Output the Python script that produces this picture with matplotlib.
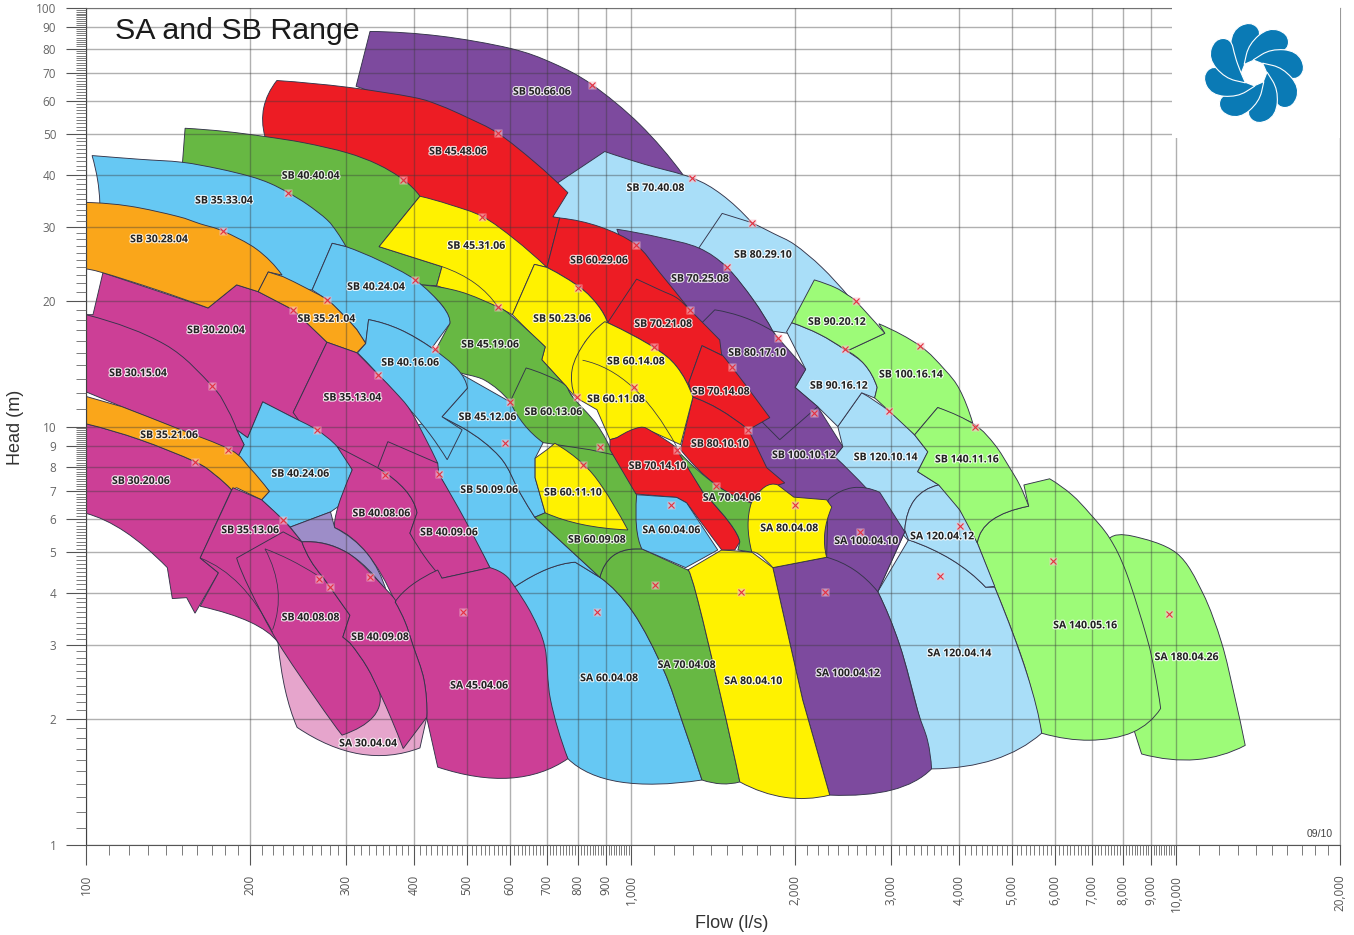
import numpy as np
import matplotlib
matplotlib.use("Agg")
import matplotlib.pyplot as plt
import matplotlib.patheffects as pe
from matplotlib.patches import PathPatch, Rectangle
from matplotlib.path import Path
from matplotlib.ticker import FixedLocator, NullFormatter

# outlines as (flow, head), a third item marks a point on a smooth curve between two corners
SB_50_66_06 = [(332,87.9),(446,85.7,1),(600,80.1,1),(719,73.8,1),(848,65.6,1),(1038,52.7,1),(1245,40.0),(877,38.9),(740,34.0),(465,54.2),(313,65.0)]
SB_70_40_08 = [(725,37.8),(895,45.4),(1060,42.3,1),(1293,39.3,1),(1468,35.8,1),(1666,30.7),(1338,25.0),(954,26.5),(719,31.7)]
SB_80_29_10 = [(1470,32.3),(1666,30.7),(1828,28.9,1),(1997,27.2,1),(2240,24.0,1),(2520,20.3),(1956,16.6),(1940,16.7),(1820,16.9),(1675,20.1,1),(1500,24.0,1),(1411,25.4,1),(1332,26.7)]
SB_120_10_14 = [(2650,12.04),(2984,10.85,1),(3315,9.55),(3505,8.7),(3358,7.8),(3670,7.25),(3315,6.68,1),(3180,5.66),(3247,5.29),(2366,8.47),(2447,8.95),(2396,10.0)]
SB_90_16_12 = [(1972,17.7),(2220,16.6,1),(2468,15.26,1),(2685,14.05,1),(2830,12.4),(2800,11.7),(2650,12.04),(2396,10.0),(2201,11.15),(2000,12.4),(2092,13.7),(1930,16.85)]
SB_100_16_14 = [(2850,17.6),(3387,15.6,1),(3765,13.67,1),(4011,12.24,1),(4237,10.2),(3655,11.1),(3315,9.55),(2984,10.85,1),(2800,11.7),(2830,12.4),(2685,14.05,1),(2468,15.26),(2520,15.26),(2923,16.7)]
SB_90_20_12 = [(2170,22.4),(2366,21.5,1),(2500,20.6,1),(2597,19.8,1),(2923,16.7),(2520,15.26),(2468,15.26),(2220,16.6,1),(1972,17.7)]
SA_180_04_26 = [(7557,5.41),(8330,5.47,1),(10030,4.98,1),(11200,4.0,1),(12130,3.04,1),(12800,2.28,1),(13400,1.73),(10900,1.6,1),(8650,1.65),(8400,1.86),(7245,3.85)]
SA_140_05_16 = [(5260,7.25),(5865,7.5),(6440,6.87,1),(6945,6.2,1),(7557,5.41,1),(8110,4.47,1),(8837,3.14,1),(9140,2.59,1),(9374,2.12),(8330,1.86,1),(6945,1.78,1),(5670,1.85),(5320,2.58,1),(4953,3.36,1),(4650,4.13,1),(4320,5.27),(4600,5.98,1),(5367,6.45)]
SA_120_04_14 = [(2837,4.03),(3230,5.36),(3880,4.8,1),(4475,4.13),(4650,4.13),(5320,2.58,1),(5670,1.85),(4640,1.6,1),(3560,1.52),(3356,2.1,1),(3113,3.0,1)]
SA_120_04_12 = [(3670,7.25),(3315,6.68,1),(3180,5.66),(3230,5.36),(3880,4.8,1),(4475,4.13),(4650,4.15),(4320,5.27),(4011,6.32,1)]
SB_140_11_16 = [(3655,11.1),(4270,10.1,1),(4650,9.05,1),(4953,7.97,1),(5167,7.25,1),(5367,6.45),(4600,5.98,1),(4320,5.27),(4011,6.32),(3670,7.25),(3358,7.8),(3505,8.7),(3315,9.55)]
SB_100_10_12 = [(1900,11.9),(2041,11.3,1),(2201,11.15),(2447,8.95),(2366,8.47),(2720,7.06,1),(3180,5.6),(2837,4.03),(2286,4.87),(1821,4.6),(1723,7.46),(1643,9.82),(1770,10.8)]
SA_100_04_10 = [(2300,6.68),(2552,7.14,1),(2861,6.96),(3180,5.6),(2837,4.03),(2286,4.87)]
SA_100_04_12 = [(1821,4.6),(2286,4.87),(2570,4.54,1),(2837,4.03),(3113,3.0,1),(3356,2.1,1),(3500,1.78,1),(3560,1.52),(3009,1.353,1),(2316,1.316),(2066,2.22)]
SB_70_25_08 = [(942,29.6),(1130,28.3,1),(1332,26.7,1),(1500,24.0,1),(1675,20.1,1),(1820,16.9),(1860,16.3),(1455,16.1),(1338,17.0),(1038,21.2)]
SB_80_17_10 = [(1425,19.0),(1618,18.2,1),(1820,16.9),(1860,16.3),(2092,13.7),(2000,12.4),(2201,11.15),(1875,9.3),(1584,11.6),(1455,14.4),(1350,17.7)]
SB_45_48_06 = [(224,67.1),(301,64.7,1),(398,61.2,1),(446,58.5,1),(500,54.8,1),(570,50.2,1),(666,42.8,1),(766,36.2),(719,31.7),(740,31.5),(701,24.0),(528,28.0),(410,26.5),(305,38.9),(213,49.3),(212,57.9,1)]
SB_60_29_06 = [(740,31.5),(877,30.0,1),(1021,27.2,1),(1130,23.3,1),(1282,19.0),(1338,15.0),(906,17.7),(869,19.5,1),(806,21.5,1),(701,24.0)]
SB_70_21_08 = [(1024,22.5),(1130,21.2,1),(1213,20.3,1),(1282,19.0,1),(1455,16.1),(1467,14.8),(1350,15.6),(1276,12.7),(1299,11.75),(1213,13.9,1),(1097,15.5,1),(906,17.7)]
SB_70_14_08 = [(1350,15.6),(1467,14.8),(1530,13.9,1),(1798,10.5),(1643,9.82),(1455,10.97,1),(1299,11.75),(1276,12.7)]
SB_80_10_10 = [(1299,11.75),(1455,10.97,1),(1643,9.82),(1775,7.97),(1915,7.33),(1798,7.14),(1663,6.57),(1433,7.25,1),(1233,8.8)]
SB_40_40_04 = [(152,51.6),(180,50.7,1),(213,49.3,1),(252,47.6,1),(301,45.1,1),(343,42.3,1),(382,38.9,1),(410,35.5),(345,26.9),(450,24.1),(440,21.7),(410,21.8),(402,22.4),(300,26.9),(217.6,34.9),(150,41.1)]
SB_45_31_06 = [(410,35.5),(465,33.9,1),(535,31.7,1),(612,28.0,1),(701,24.0),(665,24.4),(606,18.5),(570,19.3),(440,21.7),(450,24.1),(345,26.9)]
SB_50_23_06 = [(665,24.4),(701,24.0),(806,21.5,1),(869,19.5,1),(906,17.7),(823,15.9),(788,11.8),(755,12.6),(686,14.44),(696,15.5),(652,16.8,1),(606,18.5)]
SB_60_14_08 = [(895,17.8),(906,17.7),(1097,15.5,1),(1213,13.9,1),(1299,11.75),(1233,9.05),(1097,9.7),(1038,9.95),(942,9.4),(915,9.3),(866,10.97),(790,11.75),(780,13.7,1),(823,15.9,1)]
SA_60_04_08 = [(612,4.14),(701,4.56,1),(790,4.74),(877,4.36),(1010,3.59,1),(1148,2.62,1),(1245,1.955,1),(1350,1.43),(954,1.415,1),(766,1.608),(600,3.0)]
SA_70_04_08 = [(877,4.36),(925,4.9,1),(1022,5.1),(1047,5.1),(1271,4.54),(1326,3.85,1),(1467,2.22,1),(1584,1.415),(1467,1.40,1),(1350,1.43),(1245,1.955,1),(1148,2.62,1),(1010,3.59,1)]
SA_80_04_10 = [(1271,4.54),(1467,5.07),(1666,5.01),(1821,4.6),(2066,2.22),(2316,1.316),(1915,1.30,1),(1584,1.415),(1467,2.22,1),(1326,3.85,1)]
SB_45_19_06 = [(410,21.8),(485.5,21.0,1),(570,19.3,1),(600,18.5,1),(652,16.8,1),(696,15.5),(686,14.44),(755,12.6),(782,11.75),(600,11.45),(539,12.9,1),(472,13.67,1),(440,15.4),(465,17.6),(451,19.4,1)]
SB_50_09_06 = [(490,9.95),(575,8.45,1),(625,6.96,1),(666,6.07),(877,4.36),(790,4.74),(701,4.56,1),(612,4.14),(551,4.6),(444,7.7),(400,10.0),(450,10.55)]
SB_45_12_06 = [(501,12.35),(472,13.67),(600,11.45),(690,9.15),(667,8.4),(667,7.54),(696,6.22),(666,6.07),(625,6.96,1),(575,8.45,1),(490,9.95),(450,10.55)]
SB_60_09_08 = [(756,9.82),(849,9.5,1),(927,8.56,1),(987,7.6,1),(1024,6.87),(1024,5.74),(1047,5.1),(1022,5.1),(925,4.9,1),(877,4.36),(666,6.07),(696,6.22),(681,8.33),(725,9.12)]
SB_60_13_06 = [(642,13.8),(695,13.3,1),(755,12.6,1),(782,11.75,1),(866,10.1,1),(927,8.56),(841,8.8),(690,9.15),(637,10.1,1),(600,11.45)]
SB_60_11_10 = [(701,8.8),(725,9.12),(815,8.16,1),(886,7.17,1),(987,5.66),(815,5.83,1),(696,6.22),(667,7.54),(667,8.4)]
SB_70_14_10 = [(915,9.3),(942,9.4),(1038,9.95,1),(1097,9.7,1),(1213,8.9),(1355,6.97),(1518,5.88,1),(1584,5.3),(1551,5.07),(1467,5.07),(1265,6.57),(1213,6.77),(1021,6.9),(915,8.8)]
SA_70_04_06 = [(1213,8.8),(1433,7.25,1),(1663,6.57),(1645,5.88),(1666,5.01),(1571,5.07),(1584,5.3),(1518,5.88,1),(1355,6.97)]
SA_60_04_06 = [(1024,6.87),(1213,6.77),(1265,6.57),(1443,5.07),(1260,4.6),(1047,5.1),(1024,5.74,1)]
SA_80_04_08 = [(1663,6.57),(1760,7.17,1),(1860,7.25),(1990,6.78),(2286,6.68),(2336,6.42),(2268,5.57,1),(2286,4.87),(1821,4.6),(1723,4.93,1),(1666,5.01),(1640,5.8,1)]
SB_35_33_04 = [(102.6,44.4),(125.6,43.5,1),(150,42.8,1),(175,41.3,1),(200,39.6,1),(217.6,38.1,1),(235,36.2,1),(255,33.9,1),(276.8,31.2,1),(289,29.1,1),(300,26.9),(283,27.4),(260,21.2),(200,21.2),(106,31.2),(106,34.3),(105,38.9,1)]
SB_40_24_04 = [(283,27.4),(300,26.9),(346,24.9,1),(402,22.4,1),(451,19.4,1),(465,17.6),(431,15.4),(377,17.04,1),(330,18.0),(326,15.8),(314,17.04),(295,18.6,1),(276.8,20.1),(260,21.2)]
SB_40_16_06 = [(330,18.0),(377,17.04,1),(431,15.4,1),(480,13.73,1),(501,12.35),(450,10.55),(490,9.82),(460,8.33),(428,9.57,1),(393,10.97,1),(344,13.3,1),(315,15.0),(326,15.8)]
SA_30_04_04 = [(225,3.05),(232,2.35,1),(244,1.91),(318,1.65,1),(410,1.706),(422,2.02),(393,2.92),(292,3.27)]
SB_30_20_04 = [(107.4,23.3),(167.5,19.2),(189,21.8),(207,21.0),(240,19.0),(276.8,15.9),(240,10.8),(265,9.82),(211,11.45),(198,9.4),(189,9.82),(170.3,12.5),(100,18.5),(103,18.5)]
SB_30_28_04 = [(100,34.3),(120.4,33.6,1),(146.9,31.8,1),(162,30.5,1),(178.4,29.3,1),(205.8,26.5,1),(229,23.0),(216,23.4),(207,21.0),(189,21.8),(167.5,19.2),(135,21.2,1),(107.4,23.3,1),(100,23.7)]
SB_35_21_04 = [(216,23.4),(230,22.8),(252,21.5,1),(276.8,20.1,1),(295,18.6,1),(314,17.04),(326,15.8),(314,15.0),(276.8,15.9),(240,19.0),(207,21.0)]
SB_35_13_04 = [(276.8,15.9),(314,15.0),(344,13.3,1),(369,12.1,1),(393,10.97,1),(419,9.4,1),(442,8.17),(343,7.97),(300,8.0),(265,9.0),(240,10.8)]
SB_40_24_06 = [(211,11.45),(236.8,10.6,1),(265,9.82,1),(289,8.95,1),(308,7.88),(290,6.43),(281,6.25),(237,5.75),(230,5.98),(210,6.68),(217,7.0),(190,8.47),(195,9.05),(189,9.82),(198,9.4)]
SB_40_08_06 = [(289,8.95),(343,7.97),(385,7.06,1),(405,6.22),(393,5.56),(450,4.34),(369,3.81),(328,4.97,1),(286,5.73),(290,6.43,1),(308,7.88)]
SB_40_09_06 = [(358,9.2),(442,8.17),(444,7.7),(496,5.98,1),(551,4.6),(450,4.34),(419,4.87,1),(393,5.56),(405,6.22),(385,7.06,1),(343,7.97)]
SA_45_04_06 = [(369,3.81),(396,4.18,1),(442,4.54),(450,4.34),(551,4.6),(587,4.42,1),(612,4.14,1),(658,3.55,1),(695,2.97,1),(712,2.22,1),(766,1.608),(600,1.445,1),(442,1.535),(422,2.01),(417,2.48,1),(398,3.0,1),(385,3.41,1)]
SB_30_15_04 = [(100,18.5),(139.6,15.7,1),(170.3,12.5,1),(182,10.97,1),(189,9.82),(195,9.05),(190,8.47),(184,8.8),(116.4,11.15),(100,12.1)]
SB_30_20_06 = [(100,10.15),(125.6,9.3,1),(158.5,8.24,1),(172.4,7.67,1),(185,7.06),(162,4.85),(175,4.47),(158.5,3.58),(153,3.9),(144,3.88),(141,4.6),(118,5.6,1),(100,6.2)]
SB_35_21_06 = [(100,11.8),(116.4,11.15),(145,9.97,1),(184,8.8,1),(200,7.95,1),(217,7.0),(210,6.68),(189,7.14),(185,7.06),(172.4,7.67,1),(158.5,8.24,1),(125.6,9.3,1),(100,10.15)]
SB_35_13_06 = [(186,7.14),(210,6.68),(230,5.98,1),(239,5.66,1),(249,5.3),(275,4.07),(237,3.1),(225,3.05),(200,3.41,1),(162,3.72),(175,4.47),(162,4.85)]
OVERLAP = [(237,5.75),(281,6.25),(286,5.73),(328,4.97,1),(356,4.03),(301,5.0,1),(249,5.3)]
SB_40_08_08 = [(189,4.85),(230,5.6),(249,5.3),(258,4.8,1),(272,4.37),(305,3.54),(296,3.14),(305,3.04),(328,2.66,1),(346,2.31),(336,2.02,1),(295,1.83),(265,2.22,1),(225,3.05,1),(200,4.07,1)]
SB_40_09_08 = [(249,5.3),(301,5.0,1),(356,4.07,1),(369,3.81),(385,3.41,1),(398,3.0,1),(417,2.48,1),(422,2.02),(382,1.70),(364,1.99,1),(346,2.31,1),(328,2.66,1),(305,3.04),(296,3.14),(305,3.54),(272,4.37),(258,4.8,1)]

extra_curves = [
    [(162,4.85),(191.7,4.18,1),(220,3.22)],
    [(213,5.1),(237,4.8,1),(265,4.42)],
    [(213,5.1),(225,4.07,1),(220,3.27)],
    [(450,24.1),(517,22.0,1),(570,19.3)],
    [(815,14.4),(1008,12.4,1),(1213,8.95)],
]

PURPLE = "#7d4a9e"; LBLUE = "#a9def8"; LGREEN = "#9dfb78"; GREEN = "#67b843"; RED = "#ed1c24"
YELLOW = "#fff200"; CYAN = "#66c8f3"; ORANGE = "#faa61a"; MAGENTA = "#cc3f96"; PINK = "#e6a5cc"; LAVENDER = "#9d8dc8"

# back to front
shapes = [
    (SB_50_66_06, PURPLE), (SB_70_40_08, LBLUE), (SB_80_29_10, LBLUE), (SB_120_10_14, LBLUE), (SB_90_16_12, LBLUE),
    (SB_100_16_14, LGREEN), (SB_90_20_12, LGREEN), (SA_180_04_26, LGREEN), (SA_140_05_16, LGREEN),
    (SA_120_04_14, LBLUE), (SA_120_04_12, LBLUE), (SB_140_11_16, LGREEN),
    (SB_100_10_12, PURPLE), (SA_100_04_10, PURPLE), (SA_100_04_12, PURPLE), (SB_70_25_08, PURPLE), (SB_80_17_10, PURPLE),
    (SB_45_48_06, RED), (SB_60_29_06, RED), (SB_70_21_08, RED), (SB_70_14_08, RED), (SB_80_10_10, RED),
    (SB_40_40_04, GREEN), (SB_45_31_06, YELLOW), (SB_50_23_06, YELLOW), (SB_60_14_08, YELLOW),
    (SA_60_04_08, CYAN), (SA_70_04_08, GREEN), (SA_80_04_10, YELLOW), (SB_45_19_06, GREEN),
    (SB_50_09_06, CYAN), (SB_45_12_06, CYAN), (SB_60_09_08, GREEN), (SB_60_13_06, GREEN), (SB_60_11_10, YELLOW),
    (SB_70_14_10, RED), (SA_70_04_06, GREEN), (SA_60_04_06, CYAN), (SA_80_04_08, YELLOW),
    (SB_35_33_04, CYAN), (SB_40_24_04, CYAN), (SB_40_16_06, CYAN), (SA_30_04_04, PINK), (SB_30_20_04, MAGENTA),
    (SB_30_28_04, ORANGE), (SB_35_21_04, ORANGE), (SB_35_13_04, MAGENTA), (SB_40_24_06, CYAN),
    (SB_40_08_06, MAGENTA), (SB_40_09_06, MAGENTA), (SA_45_04_06, MAGENTA), (SB_30_15_04, MAGENTA),
    (SB_30_20_06, MAGENTA), (SB_35_21_06, ORANGE), (SB_35_13_06, MAGENTA), (OVERLAP, LAVENDER),
    (SB_40_08_08, MAGENTA), (SB_40_09_08, MAGENTA),
]

label_text = ["SB 50.66.06","SB 45.48.06","SB 40.40.04","SB 70.40.08","SB 35.33.04","SB 30.28.04","SB 45.31.06","SB 80.29.10","SB 60.29.06","SB 70.25.08",
    "SB 40.24.04","SB 50.23.06","SB 35.21.04","SB 90.20.12","SB 70.21.08","SB 30.20.04","SB 45.19.06","SB 80.17.10","SB 60.14.08","SB 40.16.06",
    "SB 30.15.04","SB 100.16.14","SB 90.16.12","SB 70.14.08","SB 35.13.04","SB 60.11.08","SB 60.13.06","SB 45.12.06","SB 35.21.06","SB 80.10.10",
    "SB 100.10.12","SB 120.10.14","SB 140.11.16","SB 70.14.10","SB 40.24.06","SB 30.20.06","SB 50.09.06","SB 60.11.10","SA 70.04.06","SB 40.08.06",
    "SA 80.04.08","SB 35.13.06","SA 60.04.06","SB 40.09.06","SA 120.04.12","SA 100.04.10","SB 60.09.08","SB 40.08.08","SA 140.05.16","SB 40.09.08",
    "SA 120.04.14","SA 180.04.26","SA 70.04.08","SA 100.04.12","SA 60.04.08","SA 80.04.10","SA 45.04.06","SA 30.04.04"]
label_flow = [686,481,258,1108,179,136,520,1745,873,1338,340,747,276,2385,1145,173,551,1703,1020,393,124.5,3260,2405,1460,308,938,720,545,142,1455,
    2075,2930,4130,1118,247,126,549,782,1530,348,1950,200,1185,463,3720,2700,865,258,6810,346,4000,10450,1264,2500,911,1675,526,329]
label_head = [63.5,45.7,40,37.4,34.9,28.2,27.2,25.9,25.1,22.7,21.7,18.2,18.2,17.9,17.7,17.1,15.8,15.1,14.4,14.3,13.5,13.4,12.6,12.2,11.8,11.7,10.9,10.6,9.6,9.15,
    8.6,8.5,8.4,8.1,7.76,7.46,7.1,7.0,6.8,6.24,5.75,5.69,5.69,5.62,5.5,5.36,5.4,3.52,3.37,3.16,2.89,2.83,2.71,2.59,2.52,2.48,2.42,1.76]

bep_flow = [848,570,381,235,178.4,532,1293,1666,1021,402,276.8,240,570,800,1500,1282,2590,2468,3387,1860,1102,437,344,170.3,1012,1530,795,600,2165,2975,
    4270,1643,265,877,588,1213,182,158.5,818,354,444,1433,1997,1185,230,2629,4011,5950,3686,268,280,332,1105,1590,2270,492,865,9700]
bep_head = [65.6,50.2,38.9,36.2,29.3,31.7,39.3,30.7,27.2,22.4,20.1,19.0,19.3,21.4,24.0,19.0,19.9,15.3,15.6,16.3,15.5,15.3,13.3,12.5,12.4,13.9,11.75,11.45,10.8,10.9,
    10.0,9.82,9.82,8.95,9.15,8.8,8.8,8.24,8.1,7.67,7.7,7.2,6.5,6.5,5.98,5.6,5.8,4.77,4.4,4.32,4.13,4.37,4.18,4.03,4.03,3.6,3.6,3.56]

flow_major = [100,200,300,400,500,600,700,800,900,1000,2000,3000,4000,5000,6000,7000,8000,9000,10000,20000]
flow_labels = ["100","200","300","400","500","600","700","800","900","1,000","2,000","3,000","4,000","5,000","6,000","7,000","8,000","9,000","10,000","20,000"]
head_major = [1,2,3,4,5,6,7,8,9,10,20,30,40,50,60,70,80,90,100]
head_labels = [str(h) for h in head_major]


def outline(points, closed=True):
    # straight between corners, a smooth curve through any flagged points in between
    verts, codes = [points[0][:2]], [Path.MOVETO]
    seq = list(points[1:]) + ([points[0]] if closed else [])
    run = []
    for p in seq:
        if len(p) == 3:
            run.append(p[:2])
            continue
        if not run:
            verts.append(p[:2])
            codes.append(Path.LINETO)
            continue
        q = np.log10(np.array([verts[-1]] + run + [p[:2]], float))
        m = np.zeros_like(q)
        m[1:-1] = (q[2:] - q[:-2]) / 2
        m[0] = (4 * q[1] - q[2] - 3 * q[0]) / 2
        m[-1] = (3 * q[-1] - 4 * q[-2] + q[-3]) / 2
        for i in range(len(q) - 1):
            verts += [tuple(10 ** (q[i] + m[i] / 3)), tuple(10 ** (q[i + 1] - m[i + 1] / 3)), tuple(10 ** q[i + 1])]
            codes += [Path.CURVE4] * 3
        run = []
    if closed:
        verts.append(points[0][:2])
        codes.append(Path.CLOSEPOLY)
    return Path(verts, codes)


W, H = 1354, 935
fig = plt.figure(figsize=(W / 100, H / 100), dpi=100)
ax = fig.add_axes([86 / W, (H - 845) / H, (1340 - 86) / W, (845 - 8) / H])
ax.set_xscale("log")
ax.set_yscale("log")
ax.set_xlim(100, 20000)
ax.set_ylim(1, 100)

for pts, col in shapes:
    ax.add_patch(PathPatch(outline(pts), facecolor=col, edgecolor="#34344a", lw=0.65, zorder=1))
for pts in extra_curves:
    ax.add_patch(PathPatch(outline(pts, closed=False), facecolor="none", edgecolor="#34344a", lw=0.55, zorder=1))

###### axes and grid ######
ax.xaxis.set_major_locator(FixedLocator(flow_major))
ax.yaxis.set_major_locator(FixedLocator(head_major))
ax.set_xticklabels(flow_labels, rotation=90, fontsize=8.5, color="#555555", family="Open Sans", va="top")
ax.set_yticklabels(head_labels, fontsize=8.5, color="#666666", family="Open Sans")
flow_minor = list(range(110, 1000, 10)) + list(range(1100, 10000, 100)) + list(range(11000, 20000, 1000))
head_minor = [i / 10 for i in range(11, 100)] + list(range(11, 100))
ax.xaxis.set_minor_locator(FixedLocator(flow_minor))
ax.yaxis.set_minor_locator(FixedLocator(head_minor))
ax.xaxis.set_minor_formatter(NullFormatter())
ax.yaxis.set_minor_formatter(NullFormatter())
ax.tick_params(which="major", length=14.4, width=0.8, color="#555555", pad=7)
ax.tick_params(which="minor", length=7.2, width=0.6, color="#666666")
ax.set_axisbelow(False)
ax.grid(True, which="major", color="#3a3a3a", alpha=0.4, lw=1.0)
for s in ax.spines.values():
    s.set_color("#999999")
    s.set_linewidth(0.8)
ax.spines["left"].set_color("#444444")
ax.spines["bottom"].set_color("#555555")

###### pump marks and labels ######
ax.plot(bep_flow, bep_head, ls="none", marker="s", ms=6, mfc="#f7c6cf", mec="none", alpha=0.6, zorder=3)
ax.plot(bep_flow, bep_head, ls="none", marker="x", ms=4.5, mew=0.8, color="#e5303f", zorder=3.1)
halo = [pe.withStroke(linewidth=1.6, foreground="white", alpha=0.85)]
for t, fx, hy in zip(label_text, label_flow, label_head):
    ax.annotate(t, (fx, hy), xytext=(0, -1.2), textcoords="offset points", ha="center", va="center", fontsize=7.6,
                family="Open Sans", weight="bold", color="#222222", path_effects=halo, zorder=4)

###### page furniture ######
fig.text(16 / W, 1 - 427 / H, "Head (m)", rotation=90, ha="center", va="center", fontsize=13, family="Liberation Sans", color="#333333")
fig.text(732 / W, 1 - 923 / H, "Flow (l/s)", ha="center", va="center", fontsize=13, family="Liberation Sans", color="#333333")
fig.text(1320 / W, 1 - 834 / H, "09/10", ha="center", va="center", fontsize=7.5, family="Liberation Sans", color="#444444")

over = fig.add_axes([0, 0, 1, 1], zorder=10)
over.set_xlim(0, W)
over.set_ylim(H, 0)
over.axis("off")
over.add_patch(Rectangle((1172, 6), 168, 132, facecolor="white", edgecolor="none"))
over.text(115, 31, "SA and SB Range", ha="left", va="center", fontsize=21.9, family="Liberation Sans", color="#1a1a1a")

# logo, one petal turned eight times
petal = 0.93 * np.array([(-14, 1), (-14, 1), (-26, -18), (-24, -46), (-4, -56), (9, -44), (-2, -27), (-9, -12)], float)
for k in range(8):
    a = np.radians(45 * k)
    rot = np.column_stack([petal[:, 0] * np.cos(a) - petal[:, 1] * np.sin(a), petal[:, 0] * np.sin(a) + petal[:, 1] * np.cos(a)])
    rot += (1254, 73)
    mids = (rot + np.roll(rot, -1, axis=0)) / 2
    verts, codes = [mids[-1]], [Path.MOVETO]
    for c, m in zip(rot, mids):
        verts += [c, m]
        codes += [Path.CURVE3, Path.CURVE3]
    over.add_patch(PathPatch(Path(verts, codes), facecolor="#0a7ab5", edgecolor="white", lw=0.8))

fig.savefig("out.png", dpi=100)
